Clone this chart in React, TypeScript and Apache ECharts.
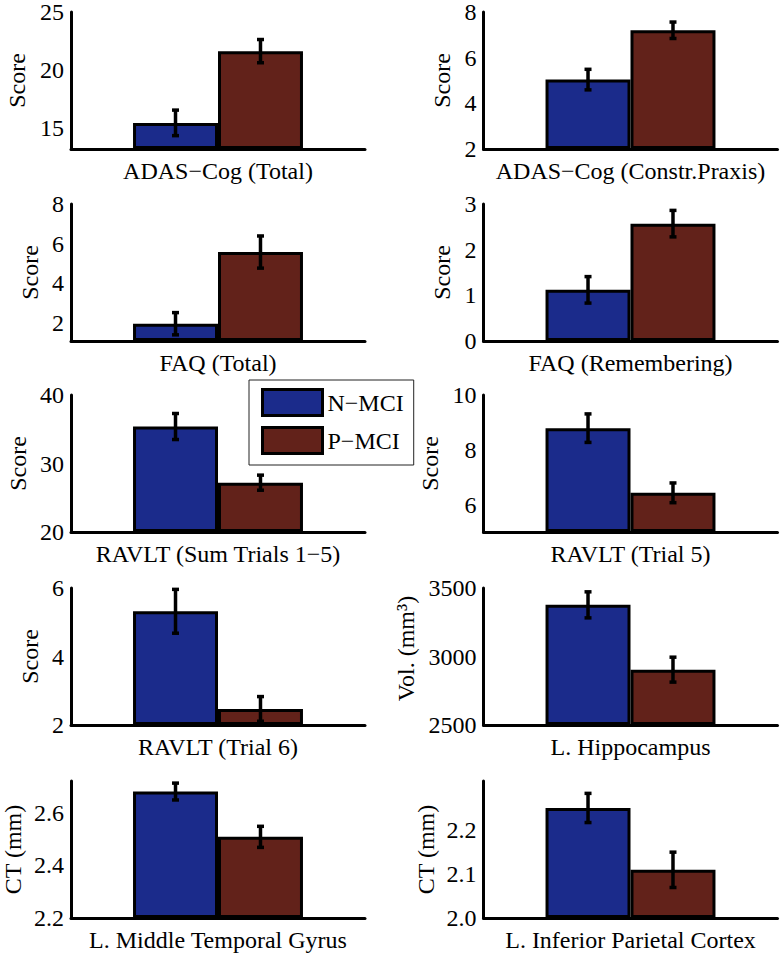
import React, { useEffect, useRef } from "react";
import * as echarts from "echarts";

const panelTitles = [
  "ADAS\u2212Cog (Total)",
  "ADAS\u2212Cog (Constr.Praxis)",
  "FAQ (Total)",
  "FAQ (Remembering)",
  "RAVLT (Sum Trials 1\u22125)",
  "RAVLT (Trial 5)",
  "RAVLT (Trial 6)",
  "L. Hippocampus",
  "L. Middle Temporal Gyrus",
  "L. Inferior Parietal Cortex",
];
const yLabels = ["Score", "Score", "Score", "Score", "Score", "Score", "Score", "Vol. (mm\u00b3)", "CT (mm)", "CT (mm)"];
const groups = ["N-MCI", "P-MCI"];
const nMci = [15.45, 5.04, 1.97, 1.12, 35.4, 8.79, 5.32, 3377, 2.68, 2.249];
const pMci = [21.63, 7.2, 5.58, 2.57, 27.2, 6.43, 2.47, 2904, 2.508, 2.109];
const nErr = [1.1, 0.45, 0.56, 0.29, 1.9, 0.52, 0.64, 95, 0.032, 0.033];
const pErr = [1.0, 0.36, 0.81, 0.29, 1.1, 0.36, 0.36, 91, 0.04, 0.04];
const yMin = [13.2, 2, 1.1, 0, 20, 5, 2, 2500, 2.2, 2.0];
const yMax = [25, 8, 8, 3, 40, 10, 6, 3500, 2.72, 2.31];
const yTicks = [
  [15, 20, 25],
  [2, 4, 6, 8],
  [2, 4, 6, 8],
  [0, 1, 2, 3],
  [20, 30, 40],
  [6, 8, 10],
  [2, 4, 6],
  [2500, 3000, 3500],
  [2.2, 2.4, 2.6],
  [2.0, 2.1, 2.2],
];
const tickDecimals = [0, 0, 0, 0, 0, 0, 0, 0, 1, 1];

const FONT = "Liberation Serif";
const BLUE = "#1b2b8b";
const BROWN = "#62221a";
const colLeft = [71, 483.5];
const rowTop = [12, 204, 395, 588, 781];
const gridW = 294;
const gridH = 137;
const nameGaps = [42, 30, 29, 30, 41, 42, 29, 66, 46, 46];
const namePads = [0, 0, 0, 0, 0, 0, 0, 16, 0, 0];
const xMin = -0.23;
const xMax = 3.23;

export default function App() {
  const ref = useRef<HTMLDivElement>(null);
  useEffect(() => {
    document.body.style.margin = "0";
    if (!ref.current) return;
    const chart = echarts.init(ref.current, null, { renderer: "svg" });
    const grids: any[] = [];
    const xAxes: any[] = [];
    const yAxes: any[] = [];
    const series: any[] = [];
    const barPx = gridW / (xMax - xMin);
    for (let i = 0; i < 10; i++) {
      const col = i % 2;
      const row = Math.floor(i / 2);
      grids.push({ left: colLeft[col], top: rowTop[row], width: gridW, height: gridH, containLabel: false });
      xAxes.push({
        type: "value",
        gridIndex: i,
        min: xMin,
        max: xMax,
        axisLine: { show: true, onZero: false, lineStyle: { color: "#000", width: 3 } },
        axisTick: { show: false },
        axisLabel: { show: false },
        splitLine: { show: false },
        name: panelTitles[i],
        nameLocation: "middle",
        nameGap: 10,
        nameTextStyle: { fontFamily: FONT, fontSize: 24, color: "#000", verticalAlign: "top" },
      });
      const dec = tickDecimals[i];
      yAxes.push({
        type: "value",
        gridIndex: i,
        min: yMin[i],
        max: yMax[i],
        startValue: yMin[i],
        axisLine: { show: true, onZero: false, lineStyle: { color: "#000", width: 3 } },
        axisTick: { show: false },
        splitLine: { show: false },
        axisLabel: {
          customValues: yTicks[i],
          formatter: (v: number) => v.toFixed(dec),
          fontFamily: FONT,
          fontSize: 24,
          color: "#000",
          margin: 7,
          showMinLabel: true,
          showMaxLabel: true,
        },
        name: yLabels[i],
        nameLocation: "middle",
        nameGap: nameGaps[i],
        nameTextStyle: {
          fontFamily: FONT,
          fontSize: 24,
          color: "#000",
          padding: [0, 0, 0, namePads[i]],
        },
      });
      const vals = [nMci[i], pMci[i]];
      const errs = [nErr[i], pErr[i]];
      const colors = [BLUE, BROWN];
      for (let g = 0; g < 2; g++) {
        series.push({
          type: "bar",
          name: groups[g],
          xAxisIndex: i,
          yAxisIndex: i,
          data: [[g + 1, vals[g]]],
          barWidth: barPx,
          barGap: "-100%",
          clip: true,
          itemStyle: { color: colors[g], borderColor: "#000", borderWidth: 3 },
          z: 2,
        });
      }
      series.push({
        type: "custom",
        name: "err" + i,
        xAxisIndex: i,
        yAxisIndex: i,
        z: 5,
        encode: { x: 0, y: [1, 2] },
        data: [1, 2].map((x, g) => [x, vals[g] - errs[g], vals[g] + errs[g]]),
        renderItem: (params: any, api: any) => {
          const x = api.value(0);
          const lo = api.coord([x, api.value(1)]);
          const hi = api.coord([x, api.value(2)]);
          const cw = 3.5;
          const st = { stroke: "#000", lineWidth: 3.5 };
          return {
            type: "group",
            children: [
              { type: "line", shape: { x1: lo[0], y1: lo[1], x2: hi[0], y2: hi[1] }, style: st },
              { type: "line", shape: { x1: hi[0] - cw, y1: hi[1], x2: hi[0] + cw, y2: hi[1] }, style: st },
              { type: "line", shape: { x1: lo[0] - cw, y1: lo[1], x2: lo[0] + cw, y2: lo[1] }, style: st },
            ],
          };
        },
      });
    }
    chart.setOption({
      animation: false,
      backgroundColor: "#fff",
      textStyle: { fontFamily: FONT, color: "#000" },
      grid: grids,
      xAxis: xAxes,
      yAxis: yAxes,
      legend: {
        data: groups.map((g) => ({ name: g, icon: "rect" })),
        orient: "vertical",
        left: 249,
        top: 380,
        itemWidth: 60,
        itemHeight: 26,
        itemGap: 9,
        padding: [8, 10, 10, 12],
        backgroundColor: "#fff",
        borderColor: "#222",
        borderWidth: 1,
        selectedMode: false,
        formatter: (n: string) => n.replace("-", "\u2212"),
        itemStyle: { borderColor: "#000", borderWidth: 3 },
        textStyle: { fontFamily: FONT, fontSize: 24, color: "#000" },
        z: 10,
      },
      series,
    });
    return () => chart.dispose();
  }, []);
  return <div ref={ref} style={{ width: 780, height: 954 }} />;
}
